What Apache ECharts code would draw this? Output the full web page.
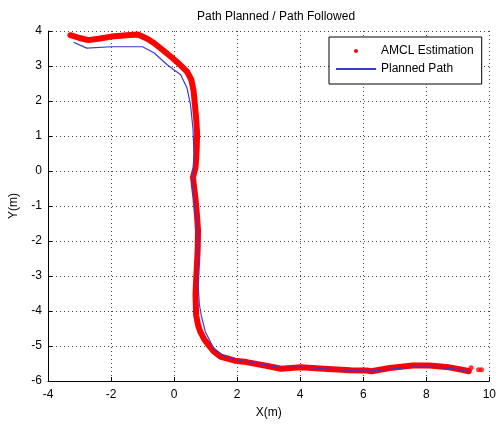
<!DOCTYPE html>
<html>
<head>
<meta charset="utf-8">
<script src="https://cdn.jsdelivr.net/npm/echarts@6/dist/echarts.min.js"></script>
<style>html,body{margin:0;padding:0;background:#fff}#c{width:499px;height:424px}</style>
</head>
<body>
<div id="c"></div>
<script>
var titleText = 'Path Planned / Path Followed';
var xAxisName = 'X(m)';
var yAxisName = 'Y(m)';
var seriesNames = ['AMCL Estimation', 'Planned Path'];

var amclX = [-3.29,-3.0,-2.72,-2.4,-1.99,-1.5,-1.15,-0.85,-0.63,-0.35,-0.11,0.15,0.41,0.55,0.62,0.66,0.70,0.73,0.72,0.70,0.68,0.60,0.64,0.68,0.72,0.76,0.75,0.73,0.70,0.68,0.70,0.76,0.83,0.95,1.09,1.25,1.46,1.93,2.3,2.66,3.0,3.39,4.02,4.75,5.59,6.11,6.26,6.84,7.57,8.09,8.72,9.14,9.35];
var amclY = [3.88,3.80,3.74,3.78,3.84,3.88,3.90,3.78,3.65,3.45,3.27,3.07,2.84,2.6,2.28,1.9,1.5,1.09,0.7,0.34,0.1,-0.18,-0.5,-0.8,-1.2,-1.7,-2.2,-2.6,-3.1,-3.55,-4.12,-4.4,-4.59,-4.8,-4.97,-5.15,-5.3,-5.42,-5.46,-5.52,-5.58,-5.65,-5.61,-5.65,-5.69,-5.70,-5.72,-5.63,-5.56,-5.56,-5.61,-5.68,-5.72];
var strayX = [9.42, 9.66, 9.75];
var strayY = [-5.62, -5.68, -5.68];

var planX = [-3.19,-2.77,-1.99,-1.0,-0.63,-0.21,0.21,0.41,0.52,0.60,0.63,0.62,0.56,0.62,0.70,0.76,0.76,0.76,0.80,0.86,0.99,1.25,1.6,2.0,2.66,3.4,4.0,4.75,5.6,6.2,7.0,7.6,8.1,8.7,9.1,9.35];
var planY = [3.68,3.51,3.55,3.55,3.37,3.03,2.75,2.37,1.9,1.2,0.5,0.0,-0.3,-0.7,-1.3,-1.8,-2.5,-3.2,-3.8,-4.12,-4.59,-5.06,-5.3,-5.4,-5.5,-5.62,-5.6,-5.65,-5.7,-5.72,-5.65,-5.6,-5.6,-5.63,-5.68,-5.74];

function zip(a, b) { return a.map(function (v, i) { return [v, b[i]]; }); }

var font = '"Liberation Sans", Arial, sans-serif';
var chart = echarts.init(document.getElementById('c'), null, {renderer: 'canvas'});
chart.setOption({
  animation: false,
  backgroundColor: '#ffffff',
  title: {
    text: titleText, left: 271, textAlign: 'center', top: 6,
    textStyle: {fontFamily: font, fontSize: 12, fontWeight: 'normal', color: '#000'}
  },
  legend: {
    orient: 'vertical', left: 329, top: 37,
    backgroundColor: '#fff', borderColor: '#000', borderWidth: 1,
    padding: [8, 8, 9, 6], itemGap: 6, itemWidth: 40, itemHeight: 4,
    textStyle: {fontFamily: font, fontSize: 12, color: '#000'},
    data: [
      {name: seriesNames[0], icon: 'circle'},
      {name: seriesNames[1], itemStyle: {opacity: 0}}
    ]
  },
  grid: {left: 48, right: 5, top: 31, bottom: 41, containLabel: false},
  xAxis: {
    type: 'value', min: -4, max: 10, interval: 2,
    name: xAxisName, nameLocation: 'middle', nameGap: 26,
    nameTextStyle: {fontFamily: font, fontSize: 12, color: '#000'},
    axisLine: {onZero: false, lineStyle: {color: '#000', width: 1}},
    axisTick: {inside: true, length: 4, lineStyle: {color: '#000'}},
    axisLabel: {fontFamily: font, fontSize: 12, color: '#000', margin: 8, showMaxLabel: true},
    splitLine: {show: true, lineStyle: {color: '#444', type: [1, 3], width: 1}}
  },
  yAxis: {
    type: 'value', min: -6, max: 4, interval: 1,
    name: yAxisName, nameLocation: 'middle', nameGap: 28,
    nameTextStyle: {fontFamily: font, fontSize: 12, color: '#000'},
    axisLine: {show: true, onZero: false, lineStyle: {color: '#000', width: 1}},
    axisTick: {show: true, inside: true, length: 4, lineStyle: {color: '#000'}},
    axisLabel: {fontFamily: font, fontSize: 12, color: '#000', margin: 6},
    splitLine: {show: true, lineStyle: {color: '#444', type: [1, 3], width: 1}}
  },
  series: [
    {
      name: seriesNames[0], type: 'line', data: zip(amclX, amclY),
      showSymbol: false, symbol: 'circle', symbolSize: 5,
      itemStyle: {color: '#ff0000'},
      lineStyle: {color: '#ff0000', width: 6, join: 'round', cap: 'round'},
      z: 2
    },
    {
      name: seriesNames[0], type: 'scatter', data: zip(strayX, strayY),
      symbol: 'circle', symbolSize: 5, itemStyle: {color: '#ff0000'}, z: 2
    },
    {
      name: seriesNames[1], type: 'line', data: zip(planX, planY),
      showSymbol: false, symbol: 'none',
      itemStyle: {color: '#3a3ad0'},
      lineStyle: {color: '#3a3ad0', width: 1.2},
      z: 3
    }
  ]
});
</script>
</body>
</html>
